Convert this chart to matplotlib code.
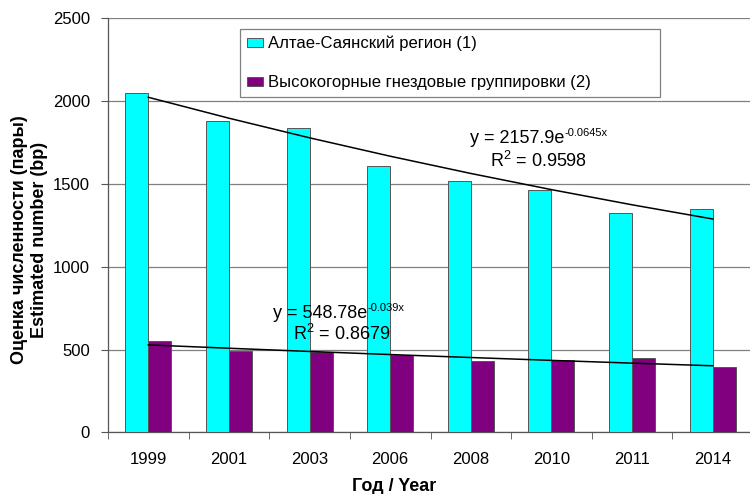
import numpy as np
import matplotlib
matplotlib.use("Agg")
import matplotlib.pyplot as plt

plt.rcParams['font.family'] = ['Liberation Sans', 'DejaVu Sans']
plt.rcParams['mathtext.fontset'] = 'custom'
plt.rcParams['mathtext.rm'] = 'Liberation Sans'
plt.rcParams['mathtext.it'] = 'Liberation Sans:italic'
plt.rcParams['mathtext.bf'] = 'Liberation Sans:bold'

years = ['1999', '2001', '2003', '2006', '2008', '2010', '2011', '2014']
altai_sayan = [2050, 1880, 1840, 1611, 1516, 1466, 1325, 1351]
highland = [551, 490, 486, 466, 432, 436, 446, 396]
series_labels = ['Алтае-Саянский регион (1)', 'Высокогорные гнездовые группировки (2)']
colors = ['#00FFFF', '#800080']

# trendline coefficients as shown on the chart
trend1 = (2157.9, -0.0645, '2157.9', '-0.0645x', '0.9598')
trend2 = (548.78, -0.039, '548.78', '-0.039x', '0.8679')

fig = plt.figure(figsize=(7.5, 4.94), dpi=100)
ax = fig.add_axes([108/750, (494-432.3)/494, 645/750, 414/494])

x = np.arange(len(years))
w = 23/80.6
ax.bar(x - w/2, altai_sayan, width=w, color=colors[0], edgecolor='#555555', linewidth=0.7,
       label=series_labels[0], zorder=3)
ax.bar(x + w/2, highland, width=w, color=colors[1], edgecolor='#555555', linewidth=0.7,
       label=series_labels[1], zorder=3)

xi = np.arange(1, len(years) + 1)
for tr in (trend1, trend2):
    ax.plot(x, tr[0]*np.exp(tr[1]*xi), color='black', linewidth=1.1, zorder=4)

fs = 12
efs = 13


def equation(tr, x0, y0, xr, yr):
    t = ax.text(x0, y0, 'y = %se' % tr[2], fontsize=efs, ha='left', va='baseline', zorder=5)
    ax.annotate(tr[3], xy=(1.0, 1.0), xycoords=t, xytext=(0.3, 1.5), textcoords='offset points',
                fontsize=8, ha='left', va='top', zorder=5)
    ax.text(xr, yr, 'R$^{\\mathregular{2}}$ = ' + tr[4], fontsize=efs, ha='left', va='baseline', zorder=5)


equation(trend1, 3.99, 1745, 4.24, 1601)
equation(trend2, 1.55, 690, 1.79, 557)

ax.set_xlim(-0.5, len(years) - 0.5)
ax.set_ylim(0, 2500)
ax.set_yticks(np.arange(0, 2501, 500))
ax.set_xticks(x)
ax.set_xticklabels(years, fontsize=fs)
ax.set_xticks(np.arange(-0.5, len(years), 1), minor=True)
ax.tick_params(axis='x', which='major', length=0, pad=14)
ax.tick_params(axis='x', which='minor', length=5, color='#555555', direction='out')
ax.tick_params(axis='y', labelsize=fs, length=5, color='#555555', direction='out', pad=8)
ax.grid(axis='y', color='#808080', linewidth=0.9, zorder=0)
for s in ('top', 'right'):
    ax.spines[s].set_visible(False)
for s in ('left', 'bottom'):
    ax.spines[s].set_color('#555555')
    ax.spines[s].set_linewidth(0.9)

fig.text(394/750, 1-491/494, 'Год / Year', fontsize=13, fontweight='bold', ha='center', va='baseline')
fig.text(20/750, 1-240/494, 'Оценка численности (пары)', rotation=90, fontsize=13,
         fontweight='bold', ha='center', va='center')
fig.text(40/750, 1-240/494, 'Estimated number (bp)', rotation=90, fontsize=13,
         fontweight='bold', ha='center', va='center')

leg = ax.legend(loc='upper left', bbox_to_anchor=(240/750, 1-102/494, 420/750, 73/494),
                bbox_transform=fig.transFigure, mode='expand', fontsize=fs,
                frameon=True, fancybox=False, shadow=False, borderpad=0.4,
                labelspacing=1.45, handlelength=0.95, handleheight=0.5, handletextpad=0.3,
                borderaxespad=0)
leg.get_frame().set_edgecolor('#808080')
leg.get_frame().set_linewidth(0.9)
leg.get_frame().set_alpha(1)
leg.set_zorder(6)

fig.savefig('out.png', dpi=100)
